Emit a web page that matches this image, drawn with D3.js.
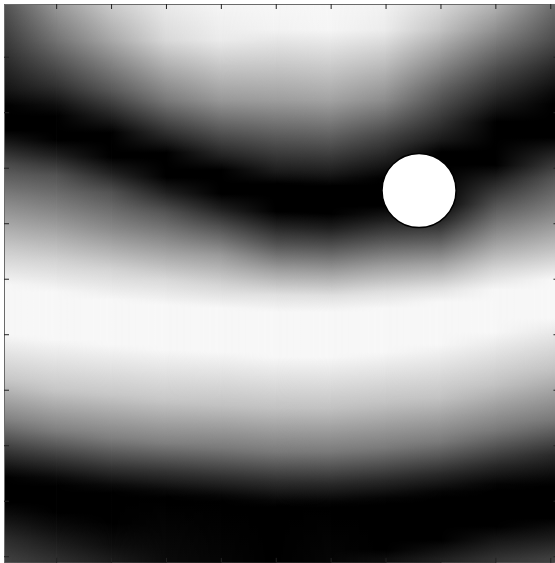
<!DOCTYPE html>
<html lang="en">
  <head>
    <meta charset="utf-8">
    <title>Field with marker</title>
    <script type="text/javascript" src="https://cdn.jsdelivr.net/npm/d3@7"></script>
    <style type="text/css">
     body { margin: 0; background: #fff; }
     svg { display: block; }
    </style>
  </head>
  <body>
    <script type="text/javascript">

     let colPos = [0.5, 10, 20, 30, 40, 50, 60, 70, 80, 90, 100.5];

     // each profile: [row, gray] pairs, gray 0 = black, 1 = white
     let profiles = [
       [[.5,.32],[8.8,.2],[16,.08],[18.9,0],[23.2,0],[25.9,.12],[29.5,.3],[35.8,.52],[44.8,.8],[51.1,.97],[60.1,.97],[68.2,.78],[75.5,.5],[80.9,.22],[84.5,.05],[85.9,0],[90.2,0],[93.5,.08],[97.1,.18],[100.5,.25]],
       [[.5,.6],[7,.45],[15.1,.2],[18.7,.06],[20.7,0],[25,0],[27.7,.12],[31.3,.32],[38.5,.55],[46.6,.82],[52.4,.97],[61,.97],[70,.78],[77.3,.5],[82.7,.2],[85.9,.04],[87.4,0],[92,0],[95.3,.06],[100.5,.18]],
       [[.5,.8],[7,.66],[16,.35],[21.4,.1],[23.7,0],[28.1,0],[30.8,.12],[34.4,.32],[41.2,.55],[48.4,.83],[53.8,.97],[61.9,.97],[70.9,.78],[78.7,.5],[84.1,.2],[87.2,.04],[88.6,0],[93.9,0],[98,.05],[100.5,.1]],
       [[.5,.92],[7,.85],[17.8,.48],[25,.12],[27.3,0],[31.7,0],[34.4,.12],[38,.33],[43.9,.58],[50.2,.85],[54.7,.97],[62.8,.97],[71.9,.78],[79.6,.5],[84.8,.2],[88.1,.04],[89.5,0],[100.5,.04]],
       [[.5,.96],[7,.92],[17.8,.6],[28.1,.12],[30.4,0],[34.7,0],[37.4,.12],[40.9,.33],[45.7,.6],[51.1,.83],[55.3,.97],[63.2,.97],[72.8,.76],[80.5,.48],[85.9,.18],[89,.03],[90.2,0],[100.5,.02]],
       [[.5,.97],[5.2,.95],[17.8,.62],[25,.33],[30.8,.1],[32.9,0],[37.9,0],[40.2,.12],[43.9,.33],[48.4,.62],[52.9,.88],[56,.97],[64.1,.97],[73.3,.76],[81.2,.48],[86.6,.18],[89.9,.03],[91.1,0],[100.5,0]],
       [[.5,.97],[5.2,.96],[17.8,.64],[25,.35],[31.1,.1],[33.3,0],[38.3,0],[40.9,.12],[44.3,.33],[48.8,.62],[53.1,.88],[56,.97],[64.1,.97],[73.3,.76],[81.2,.48],[87,.16],[90.2,.02],[91.3,0],[100.5,.02]],
       [[.5,.95],[5.2,.92],[17.8,.55],[24.1,.28],[29.7,.08],[31.9,0],[36.9,0],[39.4,.12],[43,.33],[47.7,.62],[52.4,.88],[55.3,.97],[63.2,.97],[72.4,.76],[80.5,.48],[86.3,.16],[89.5,.02],[90.8,0],[98.9,0],[100.5,.05]],
       [[.5,.85],[5.2,.76],[16,.38],[25,.1],[27.2,0],[36.5,0],[39.4,.14],[43,.36],[47.4,.64],[51.7,.88],[54.2,.97],[61.8,.97],[71.5,.76],[79.4,.48],[85.2,.16],[88.4,.02],[89.7,0],[97.1,0],[100.5,.12]],
       [[.5,.7],[5.2,.56],[12.4,.3],[18.7,.1],[21.8,0],[29.5,0],[32.6,.15],[36.7,.33],[43,.6],[48.4,.84],[52,.97],[59.6,.97],[69.1,.76],[77.3,.48],[83.6,.16],[87,.02],[88.4,0],[94.6,0],[100.5,.2]],
       [[.5,.43],[7,.3],[12.4,.14],[16.4,.04],[18.5,0],[24.6,0],[27.7,.14],[31.9,.33],[37.6,.5],[44.8,.76],[50.2,.97],[57.1,.97],[66.4,.76],[75.5,.47],[81.8,.16],[85.9,.03],[87.4,0],[93.2,0],[97.1,.12],[100.5,.25]]
     ];

     // white marker (centre and radius in image cells)
     let markers = [{x: 76.1, y: 34.1, r: 6.75}];

     let tickVals = [10, 20, 30, 40, 50, 60, 70, 80, 90, 100];

     // axes frame runs a little past the last image row/column (cut off by the page edge)
     let frameX = [0.5, 101.5];
     let frameY = [0.5, 101.2];

     let w = 555;
     let h = 563;
     let svg = d3.select("body").append("svg").attr("width", w).attr("height", h);

     let xScale = d3.scaleLinear().domain([0.5, 100.5]).range([4, 553]);
     let yScale = d3.scaleLinear().domain([0.5, 100.5]).range([4, 559]);
     let grayCol = g => { let v = Math.round(g * 255); return "rgb(" + v + "," + v + "," + v + ")"; };

     let defs = svg.append("defs");

     // one vertical gradient per read column (padded past the last row)
     let y0 = yScale(0.5), y1 = yScale(100.5);
     defs.selectAll("linearGradient.prof")
         .data(profiles)
         .enter()
         .append("linearGradient")
         .attr("class", "prof")
         .attr("id", (d, i) => "prof" + i)
         .attr("gradientUnits", "userSpaceOnUse")
         .attr("x1", 0).attr("x2", 0).attr("y1", y0).attr("y2", y1)
         .selectAll("stop")
         .data(d => d)
         .enter()
         .append("stop")
         .attr("offset", d => (yScale(d[0]) - y0) / (y1 - y0))
         .attr("stop-color", d => grayCol(d[1]));

     // left-to-right fade, used to cross-fade neighbouring columns
     let ramp = defs.append("linearGradient").attr("id", "ramp")
                    .attr("x1", 0).attr("x2", 1).attr("y1", 0).attr("y2", 0);
     ramp.append("stop").attr("offset", 0).attr("stop-color", "#000");
     ramp.append("stop").attr("offset", 1).attr("stop-color", "#fff");
     defs.append("mask").attr("id", "fade")
         .attr("maskContentUnits", "objectBoundingBox")
         .append("rect").attr("x", 0).attr("y", 0).attr("width", 1).attr("height", 1)
         .attr("fill", "url(#ramp)");

     let fy0 = yScale(frameY[0]), fy1 = yScale(frameY[1]);
     let spans = d3.pairs(colPos.map((c, i) => i));
     let field = svg.append("g");
     let cells = field.selectAll("g")
                      .data(spans)
                      .enter()
                      .append("g");
     cells.append("rect")
          .attr("x", d => xScale(colPos[d[0]]))
          .attr("width", d => xScale(colPos[d[1]]) - xScale(colPos[d[0]]) + 0.6)
          .attr("y", fy0).attr("height", fy1 - fy0)
          .attr("fill", d => "url(#prof" + d[0] + ")");
     cells.append("rect")
          .attr("x", d => xScale(colPos[d[0]]))
          .attr("width", d => xScale(colPos[d[1]]) - xScale(colPos[d[0]]) + 0.6)
          .attr("y", fy0).attr("height", fy1 - fy0)
          .attr("fill", d => "url(#prof" + d[1] + ")")
          .attr("mask", "url(#fade)");
     // last column carried to the frame edge
     field.append("rect")
          .attr("x", xScale(colPos[colPos.length - 1]))
          .attr("width", xScale(frameX[1]) - xScale(colPos[colPos.length - 1]))
          .attr("y", fy0).attr("height", fy1 - fy0)
          .attr("fill", "url(#prof" + (profiles.length - 1) + ")");

     // marker
     svg.selectAll("circle")
        .data(markers)
        .enter()
        .append("circle")
        .attr("cx", d => xScale(d.x))
        .attr("cy", d => yScale(d.y))
        .attr("r", d => xScale(d.x + d.r) - xScale(d.x))
        .attr("fill", "#fff")
        .attr("stroke", "#000")
        .attr("stroke-width", 1.5);

     // frame with inward ticks, no labels
     let xFrame = d3.scaleLinear().domain(frameX).range([xScale(frameX[0]), xScale(frameX[1])]);
     let yFrame = d3.scaleLinear().domain(frameY).range([fy0, fy1]);
     let axes = [
       {gen: d3.axisTop(xFrame), tr: "translate(0," + fy0 + ")"},
       {gen: d3.axisBottom(xFrame), tr: "translate(0," + fy1 + ")"},
       {gen: d3.axisLeft(yFrame), tr: "translate(" + xFrame(frameX[0]) + ",0)"},
       {gen: d3.axisRight(yFrame), tr: "translate(" + xFrame(frameX[1]) + ",0)"}
     ];
     axes.forEach(a => {
       let g = svg.append("g")
                  .attr("transform", a.tr)
                  .call(a.gen.tickValues(tickVals).tickSize(-5).tickSizeOuter(0).tickFormat(""));
       g.select(".domain").attr("stroke", "#6a6a6a");
       g.selectAll(".tick line").attr("stroke", "#222");
     });
    </script>
  </body>
</html>
